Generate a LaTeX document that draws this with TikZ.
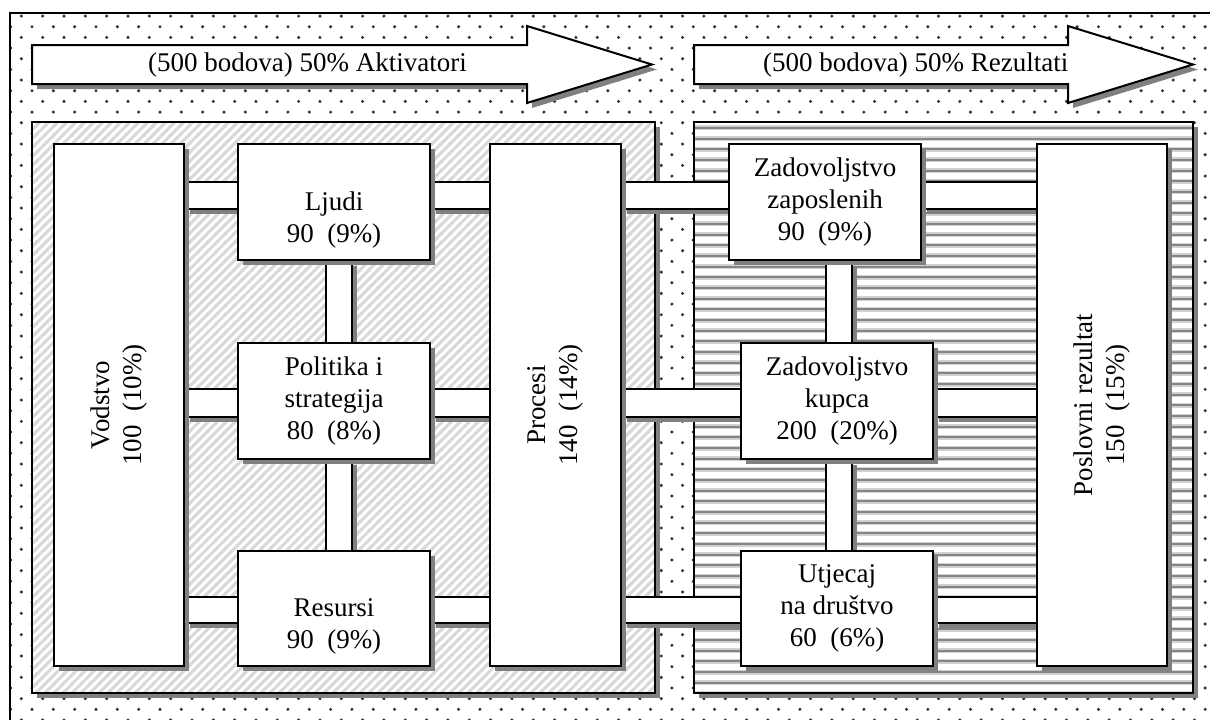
\documentclass[tikz,border=0pt]{standalone}
\usepackage{fontspec}
\setmainfont{Liberation Serif}
\usepackage{graphicx}
\usetikzlibrary{patterns,shadows,calc}

\pgfdeclarelayer{back}
\pgfdeclarelayer{mid}
\pgfsetlayers{back,mid,main}

\pgfdeclarepatternformonly{bgdots}{\pgfqpoint{-2pt}{-2pt}}{\pgfqpoint{23.33pt}{23.33pt}}{\pgfqpoint{21.33pt}{21.33pt}}{%
  \pgfpathcircle{\pgfqpoint{0pt}{0pt}}{1.7pt}%
  \pgfpathcircle{\pgfqpoint{10.67pt}{10.67pt}}{1.7pt}%
  \pgfusepath{fill}}
\pgfdeclarepatternformonly{bghatch}{\pgfqpoint{-2pt}{-2pt}}{\pgfqpoint{11pt}{11pt}}{\pgfqpoint{9pt}{9pt}}{%
  \pgfsetlinewidth{3pt}%
  \pgfpathmoveto{\pgfqpoint{-2pt}{-2pt}}\pgfpathlineto{\pgfqpoint{11pt}{11pt}}%
  \pgfusepath{stroke}}
\pgfdeclarepatternformonly{bgstripes}{\pgfqpoint{-0.5pt}{0pt}}{\pgfqpoint{10.5pt}{10.67pt}}{\pgfqpoint{10pt}{10.67pt}}{%
  \pgfpathrectangle{\pgfqpoint{-0.5pt}{4.2pt}}{\pgfqpoint{11pt}{2pt}}%
  \pgfusepath{fill}}
\pgfdeclarepatternformonly{bgstripeslight}{\pgfqpoint{-0.5pt}{0pt}}{\pgfqpoint{10.5pt}{10.67pt}}{\pgfqpoint{10pt}{10.67pt}}{%
  \pgfpathrectangle{\pgfqpoint{-0.5pt}{2.7pt}}{\pgfqpoint{11pt}{5pt}}%
  \pgfusepath{fill}}

\colorlet{shadowgray}{black!50}

\newcommand\hbarconn[4]{%
  \path (#1.east |- 0,#3) coordinate (p1) (#2.west |- 0,#4) coordinate (p2);
  \fill[shadowgray] ($(p1)+(5,5)$) rectangle ($(p2)+(5,5)$);
  \fill[white] (p1) rectangle (p2);
  \draw[line width=2pt] (p1) -- (p2 |- p1) (p1 |- p2) -- (p2);}
\newcommand\vbarconn[4]{%
  \path (#1.south -| #3,0) coordinate (p1) (#2.north -| #4,0) coordinate (p2);
  \fill[shadowgray] ($(p1)+(5,5)$) rectangle ($(p2)+(5,5)$);
  \fill[white] (p1) rectangle (p2);
  \draw[line width=2pt] (p1) -- (p1 |- p2) (p2 |- p1) -- (p2);}

\tikzset{
  txt/.style={font=\fontsize{27}{32}\selectfont},
  box/.style={txt, draw, line width=2pt, fill=white, inner sep=0pt, align=center,
    general shadow={fill=shadowgray, shadow xshift=5pt, shadow yshift=-5pt}},
  wide/.style={minimum width=192pt, minimum height=116pt},
  tall/.style={minimum width=130pt, minimum height=522pt},
  outline/.style={line width=2pt},
}

\begin{document}
\begin{tikzpicture}[x=1pt,y=-1pt]
\useasboundingbox (0,0) rectangle (1210,720);

% boxes
\path
  (119,405)   node[box, tall] (vod) {\rotatebox{90}{\begin{tabular}{@{}c@{}}Vodstvo\\100\ \ (10\%)\end{tabular}}}
  (555.5,405) node[box, minimum width=131pt, minimum height=522pt] (pro) {\rotatebox{90}{\begin{tabular}{@{}c@{}}Procesi\\140\ \ (14\%)\end{tabular}}}
  (1102,405)  node[box, tall] (pos) {\rotatebox{90}{\begin{tabular}{@{}c@{}}Poslovni rezultat\\150\ \ (15\%)\end{tabular}}}
  (334,202)   node[box, wide] (lju) {\strut\\Ljudi\\90\ \ (9\%)}
  (334,401)   node[box, wide] (pol) {Politika i\\strategija\\80\ \ (8\%)}
  (334,608.5) node[box, wide, minimum height=115pt] (res) {\strut\\Resursi\\90\ \ (9\%)}
  (825,202)   node[box, wide] (zap) {Zadovoljstvo\\zaposlenih\\90\ \ (9\%)}
  (837,401)   node[box, wide] (kup) {Zadovoljstvo\\kupca\\200\ \ (20\%)}
  (837,608.5) node[box, wide, minimum height=115pt] (utj) {Utjecaj\\na društvo\\60\ \ (6\%)};

\begin{pgfonlayer}{back}
\fill[white] (0,0) rectangle (1210,720);
% dotted background
\fill[pattern=bgdots, pattern color=black!80] (10,13) rectangle (1212,722);
\draw[line width=1.5pt] (10,722) -- (10,13) -- (1212,13);

% top arrows
\fill[shadowgray, shift={(5,5)}] (32,45) -- (527,45) -- (527,26) -- (652,64.5) -- (527,103) -- (527,84) -- (32,84) -- cycle;
\draw[outline, fill=white] (32,45) -- (527,45) -- (527,26) -- (652,64.5) -- (527,103) -- (527,84) -- (32,84) -- cycle;
\node[txt, anchor=west, inner sep=0pt] (akt) at (148,65) {(500 bodova) 50\% Aktivatori};

\fill[shadowgray, shift={(5,5)}] (694,45) -- (1068,45) -- (1068,26) -- (1193,64.5) -- (1068,103) -- (1068,84) -- (694,84) -- cycle;
\draw[outline, fill=white] (694,45) -- (1068,45) -- (1068,26) -- (1193,64.5) -- (1068,103) -- (1068,84) -- (694,84) -- cycle;
\node[txt, anchor=west, inner sep=0pt] (rez) at (763,65) {(500 bodova) 50\% Rezultati};

% panels
\fill[shadowgray] (37,127) rectangle (660,698);
\fill[white] (32,122) rectangle (655,693);
\fill[pattern=bghatch, pattern color=black!15] (32,122) rectangle (655,693);
\draw[outline] (32,122) rectangle (655,693);

\fill[shadowgray] (699,127) rectangle (1198,698);
\fill[white] (694,122) rectangle (1193,693);
\fill[pattern=bgstripeslight, pattern color=black!18] (694,122) rectangle (1193,693);
\fill[pattern=bgstripes, pattern color=black!48] (694,122) rectangle (1193,693);
\draw[outline] (694,122) rectangle (1193,693);
\end{pgfonlayer}

% connectors
\begin{pgfonlayer}{mid}
\hbarconn{vod}{lju}{182}{209}
\hbarconn{lju}{pro}{182}{209}
\hbarconn{pro}{zap}{182}{209}
\hbarconn{zap}{pos}{182}{209}
\hbarconn{vod}{pol}{389}{417}
\hbarconn{pol}{pro}{389}{417}
\hbarconn{pro}{kup}{389}{417}
\hbarconn{kup}{pos}{389}{417}
\hbarconn{vod}{res}{597}{623}
\hbarconn{res}{pro}{597}{623}
\hbarconn{pro}{utj}{597}{623}
\hbarconn{utj}{pos}{597}{623}
\vbarconn{lju}{pol}{326}{352}
\vbarconn{pol}{res}{326}{352}
\vbarconn{zap}{kup}{826}{852}
\vbarconn{kup}{utj}{826}{852}
\end{pgfonlayer}
\end{tikzpicture}
\end{document}
